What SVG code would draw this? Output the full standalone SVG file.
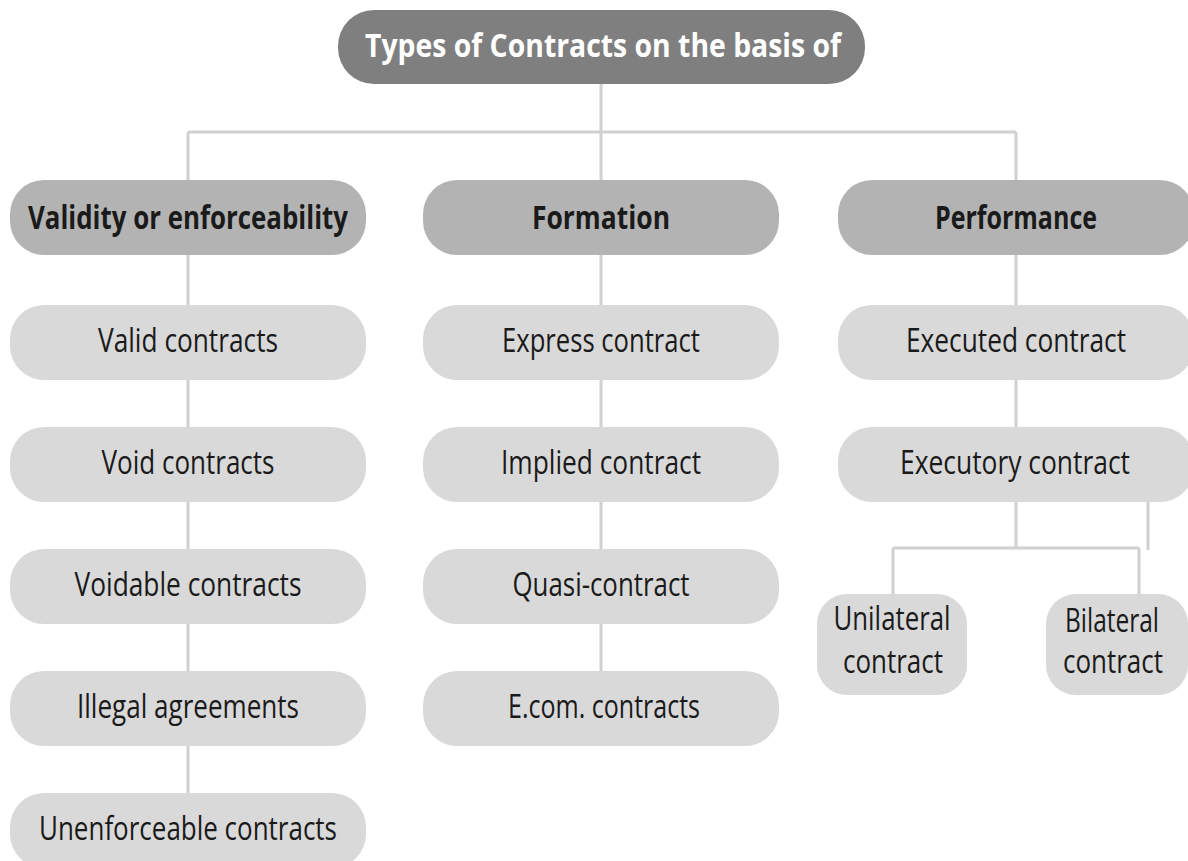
<svg xmlns="http://www.w3.org/2000/svg" width="1188" height="861" viewBox="0 0 1188 861">
<style>
.t{font-family:"Open Sans","Liberation Sans",sans-serif;font-size:32px;fill:#1a1a1a;text-anchor:middle}
.b{font-weight:bold}
.w{fill:#ffffff}
.title{fill:#7f7f7f}
.head{fill:#b3b3b3}
.child{fill:#d9d9d9}
.ln{stroke:#d0d0d0;stroke-width:3;fill:none}
</style>
<rect width="1188" height="861" fill="#ffffff"/>
<g id="connectors">
<path class="ln" d="M601 84V132M188 132H1016M188 132V793M601 132V671M1016 132V427M1016 502V548M893 548H1139M893 548V594M1139 548V594M1148 502V550"/>
</g>
<g id="title"><rect class="title" x="338" y="10" width="527" height="74" rx="36"/><text class="t b w" x="603" y="57" font-size="34" textLength="476" lengthAdjust="spacingAndGlyphs">Types of Contracts on the basis of</text></g>
<g id="h1"><rect class="head" x="10" y="180" width="356" height="75" rx="34"/><text class="t b" x="188" y="229" textLength="320" lengthAdjust="spacingAndGlyphs">Validity or enforceability</text></g>
<g id="h2"><rect class="head" x="423" y="180" width="356" height="75" rx="34"/><text class="t b" x="601" y="229" textLength="138" lengthAdjust="spacingAndGlyphs">Formation</text></g>
<g id="h3"><rect class="head" x="838" y="180" width="356" height="75" rx="34"/><text class="t b" x="1016" y="229" textLength="162" lengthAdjust="spacingAndGlyphs">Performance</text></g>
<g id="c1a"><rect class="child" x="10" y="305" width="356" height="75" rx="34"/><text class="t" x="188" y="352" textLength="180" lengthAdjust="spacingAndGlyphs">Valid contracts</text></g>
<g id="c1b"><rect class="child" x="10" y="427" width="356" height="75" rx="34"/><text class="t" x="188" y="474" textLength="173" lengthAdjust="spacingAndGlyphs">Void contracts</text></g>
<g id="c1c"><rect class="child" x="10" y="549" width="356" height="75" rx="34"/><text class="t" x="188" y="596" textLength="227" lengthAdjust="spacingAndGlyphs">Voidable contracts</text></g>
<g id="c1d"><rect class="child" x="10" y="671" width="356" height="75" rx="34"/><text class="t" x="188" y="718" textLength="222" lengthAdjust="spacingAndGlyphs">Illegal agreements</text></g>
<g id="c1e"><rect class="child" x="10" y="793" width="356" height="75" rx="34"/><text class="t" x="188" y="840" textLength="298" lengthAdjust="spacingAndGlyphs">Unenforceable contracts</text></g>
<g id="c2a"><rect class="child" x="423" y="305" width="356" height="75" rx="34"/><text class="t" x="601" y="352" textLength="198" lengthAdjust="spacingAndGlyphs">Express contract</text></g>
<g id="c2b"><rect class="child" x="423" y="427" width="356" height="75" rx="34"/><text class="t" x="601" y="474" textLength="200" lengthAdjust="spacingAndGlyphs">Implied contract</text></g>
<g id="c2c"><rect class="child" x="423" y="549" width="356" height="75" rx="34"/><text class="t" x="601" y="596" textLength="177" lengthAdjust="spacingAndGlyphs">Quasi-contract</text></g>
<g id="c2d"><rect class="child" x="423" y="671" width="356" height="75" rx="34"/><text class="t" x="604" y="718" textLength="192" lengthAdjust="spacingAndGlyphs">E.com. contracts</text></g>
<g id="c3a"><rect class="child" x="838" y="305" width="356" height="75" rx="34"/><text class="t" x="1016" y="352" textLength="220" lengthAdjust="spacingAndGlyphs">Executed contract</text></g>
<g id="c3b"><rect class="child" x="838" y="427" width="356" height="75" rx="34"/><text class="t" x="1015" y="474" textLength="230" lengthAdjust="spacingAndGlyphs">Executory contract</text></g>
<g id="c3c"><rect class="child" x="817" y="594" width="150" height="101" rx="30"/><text class="t" x="892" y="630" font-size="30" textLength="117" lengthAdjust="spacingAndGlyphs">Unilateral</text><text class="t" x="893" y="673" font-size="30" textLength="100" lengthAdjust="spacingAndGlyphs">contract</text></g>
<g id="c3d"><rect class="child" x="1046" y="594" width="142" height="101" rx="30"/><text class="t" x="1112" y="632" font-size="30" textLength="94" lengthAdjust="spacingAndGlyphs">Bilateral</text><text class="t" x="1113" y="673" font-size="30" textLength="100" lengthAdjust="spacingAndGlyphs">contract</text></g>
</svg>
